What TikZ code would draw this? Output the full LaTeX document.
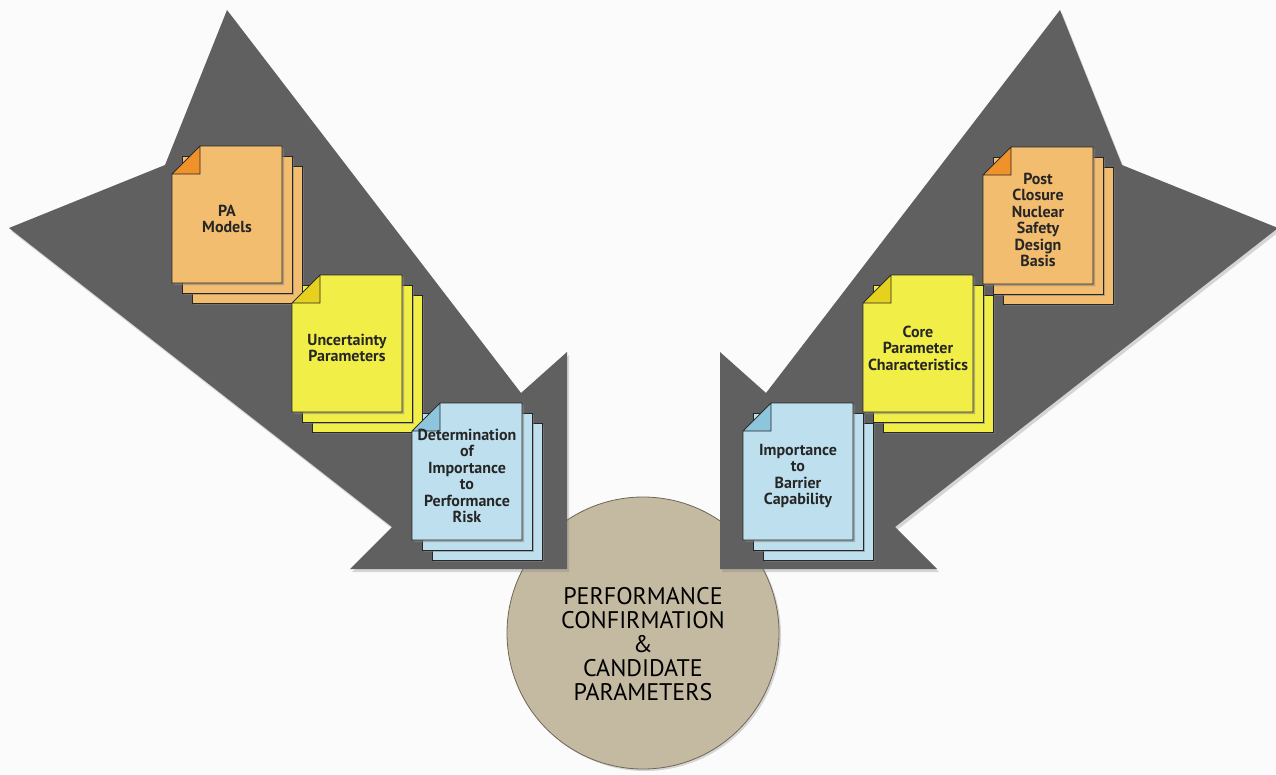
\documentclass[tikz,border=0pt]{standalone}
\usepackage{fontspec}
\setsansfont{PT Sans}
\usetikzlibrary{positioning,shadows}
\definecolor{bgwhite}{RGB}{251,251,251}
\definecolor{arrowgray}{RGB}{96,96,96}
\definecolor{pageorange}{RGB}{243,189,112}
\definecolor{foldorange}{RGB}{240,146,42}
\definecolor{pageyellow}{RGB}{242,238,72}
\definecolor{foldyellow}{RGB}{230,210,30}
\definecolor{pageblue}{RGB}{190,224,238}
\definecolor{foldblue}{RGB}{140,197,220}
\definecolor{discbeige}{RGB}{196,185,161}
\definecolor{discedge}{RGB}{110,102,86}

% stack of three pages: name, top left corner, page colour, fold colour, text
\newcommand{\pagestack}[5]{%
  \begin{scope}[shift={#2}]
    \foreach \off in {20,10}
      \draw[page, fill=#3] (\off,\off) rectangle ++(110,137);
    \draw[page, fill=#3] (28,0) -- (110,0) -- (110,137) -- (0,137) -- (0,28) -- cycle;
    \draw[draw=black!85, line width=0.7pt, fill=#4] (0,28) -- (28,28) -- (28,0) -- cycle;
    \node[pagetext] (#1) at (55,73) {#5};
  \end{scope}
}

\begin{document}
\begin{tikzpicture}[x=1pt, y=-1pt,
    page/.style={draw=black!85, line width=0.7pt,
      drop shadow={shadow xshift=2pt, shadow yshift=-2pt, opacity=0.55}},
    pagetext/.style={font=\sffamily\bfseries\fontsize{16}{16.5}\selectfont,
      align=center, text=black!85},
    bigarrow/.style={fill=arrowgray,
      drop shadow={shadow xshift=2pt, shadow yshift=-3pt, opacity=0.3}},
    disctext/.style={font=\sffamily\fontsize{24}{24}\selectfont,
      align=center, text=black}]
        \useasboundingbox (0,0) rectangle (1276,774);
        \fill[bgwhite] (0,0) rectangle (1276,774);

        % Disc
        \draw[fill=discbeige, draw=discedge, line width=0.8pt,
          drop shadow={shadow xshift=2pt, shadow yshift=-2pt, opacity=0.3}] (643,633) circle (136);
        \node[disctext] (confirmation) at (643,644)
          {PERFORMANCE\\CONFIRMATION\\\&\\CANDIDATE\\PARAMETERS};

        % Left arrow
        \fill[bigarrow] (227,10) -- (521,393) -- (567,352) -- (567,569)
          -- (350,569) -- (392,527) -- (9,228) -- (165,165) -- cycle;

        % Right arrow
        \fill[bigarrow] (1060,10) -- (766,393) -- (720,352) -- (720,569)
          -- (937,569) -- (895,527) -- (1278,228) -- (1122,165) -- cycle;

        % Left pages
        \pagestack{pamodels}{(172,146)}{pageorange}{foldorange}{PA\\Models}
        \pagestack{uncertainty}{(292,275)}{pageyellow}{foldyellow}{Uncertainty\\Parameters}
        \pagestack{determination}{(412,403)}{pageblue}{foldblue}
          {Determination\\of\\Importance\\to\\Performance\\Risk}

        % Right pages
        \pagestack{postclosure}{(983,147)}{pageorange}{foldorange}
          {Post\\Closure\\Nuclear\\Safety\\Design\\Basis}
        \pagestack{coreparam}{(863,275)}{pageyellow}{foldyellow}
          {Core\\Parameter\\Characteristics}
        \pagestack{barrier}{(743,403)}{pageblue}{foldblue}
          {Importance\\to\\Barrier\\Capability}
    \end{tikzpicture}
\end{document}
